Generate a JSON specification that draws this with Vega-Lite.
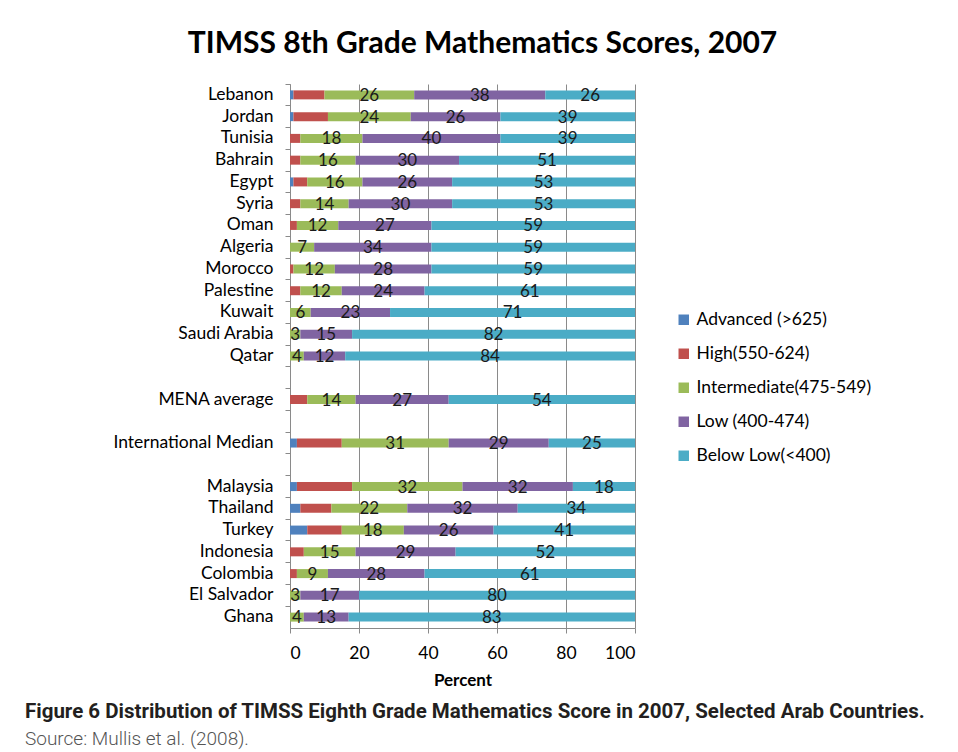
{
  "$schema": "https://vega.github.io/schema/vega-lite/v6.json",
  "padding": {"left": 25, "top": 28, "right": 5, "bottom": 5},
  "config": {"font": "Lato", "view": {"stroke": null}},
  "spacing": 13,
  "vconcat": [
    {
      "title": {"text": "TIMSS 8th Grade Mathematics Scores, 2007", "fontSize": 30, "fontWeight": "bold", "font": "Lato", "color": "#000000", "anchor": "middle", "dx": 20, "offset": 25},
      "width": 345,
      "height": 544,
      "data": {"values": [
        {"c": "Lebanon", "k": 1, "lv": "Advanced (>625)", "v": 1},
        {"c": "Lebanon", "k": 2, "lv": "High(550-624)", "v": 9},
        {"c": "Lebanon", "k": 3, "lv": "Intermediate(475-549)", "v": 26},
        {"c": "Lebanon", "k": 4, "lv": "Low (400-474)", "v": 38},
        {"c": "Lebanon", "k": 5, "lv": "Below Low(<400)", "v": 26},
        {"c": "Jordan", "k": 1, "lv": "Advanced (>625)", "v": 1},
        {"c": "Jordan", "k": 2, "lv": "High(550-624)", "v": 10},
        {"c": "Jordan", "k": 3, "lv": "Intermediate(475-549)", "v": 24},
        {"c": "Jordan", "k": 4, "lv": "Low (400-474)", "v": 26},
        {"c": "Jordan", "k": 5, "lv": "Below Low(<400)", "v": 39},
        {"c": "Tunisia", "k": 1, "lv": "Advanced (>625)", "v": 0},
        {"c": "Tunisia", "k": 2, "lv": "High(550-624)", "v": 3},
        {"c": "Tunisia", "k": 3, "lv": "Intermediate(475-549)", "v": 18},
        {"c": "Tunisia", "k": 4, "lv": "Low (400-474)", "v": 40},
        {"c": "Tunisia", "k": 5, "lv": "Below Low(<400)", "v": 39},
        {"c": "Bahrain", "k": 1, "lv": "Advanced (>625)", "v": 0},
        {"c": "Bahrain", "k": 2, "lv": "High(550-624)", "v": 3},
        {"c": "Bahrain", "k": 3, "lv": "Intermediate(475-549)", "v": 16},
        {"c": "Bahrain", "k": 4, "lv": "Low (400-474)", "v": 30},
        {"c": "Bahrain", "k": 5, "lv": "Below Low(<400)", "v": 51},
        {"c": "Egypt", "k": 1, "lv": "Advanced (>625)", "v": 1},
        {"c": "Egypt", "k": 2, "lv": "High(550-624)", "v": 4},
        {"c": "Egypt", "k": 3, "lv": "Intermediate(475-549)", "v": 16},
        {"c": "Egypt", "k": 4, "lv": "Low (400-474)", "v": 26},
        {"c": "Egypt", "k": 5, "lv": "Below Low(<400)", "v": 53},
        {"c": "Syria", "k": 1, "lv": "Advanced (>625)", "v": 0},
        {"c": "Syria", "k": 2, "lv": "High(550-624)", "v": 3},
        {"c": "Syria", "k": 3, "lv": "Intermediate(475-549)", "v": 14},
        {"c": "Syria", "k": 4, "lv": "Low (400-474)", "v": 30},
        {"c": "Syria", "k": 5, "lv": "Below Low(<400)", "v": 53},
        {"c": "Oman", "k": 1, "lv": "Advanced (>625)", "v": 0},
        {"c": "Oman", "k": 2, "lv": "High(550-624)", "v": 2},
        {"c": "Oman", "k": 3, "lv": "Intermediate(475-549)", "v": 12},
        {"c": "Oman", "k": 4, "lv": "Low (400-474)", "v": 27},
        {"c": "Oman", "k": 5, "lv": "Below Low(<400)", "v": 59},
        {"c": "Algeria", "k": 1, "lv": "Advanced (>625)", "v": 0},
        {"c": "Algeria", "k": 2, "lv": "High(550-624)", "v": 0},
        {"c": "Algeria", "k": 3, "lv": "Intermediate(475-549)", "v": 7},
        {"c": "Algeria", "k": 4, "lv": "Low (400-474)", "v": 34},
        {"c": "Algeria", "k": 5, "lv": "Below Low(<400)", "v": 59},
        {"c": "Morocco", "k": 1, "lv": "Advanced (>625)", "v": 0},
        {"c": "Morocco", "k": 2, "lv": "High(550-624)", "v": 1},
        {"c": "Morocco", "k": 3, "lv": "Intermediate(475-549)", "v": 12},
        {"c": "Morocco", "k": 4, "lv": "Low (400-474)", "v": 28},
        {"c": "Morocco", "k": 5, "lv": "Below Low(<400)", "v": 59},
        {"c": "Palestine", "k": 1, "lv": "Advanced (>625)", "v": 0},
        {"c": "Palestine", "k": 2, "lv": "High(550-624)", "v": 3},
        {"c": "Palestine", "k": 3, "lv": "Intermediate(475-549)", "v": 12},
        {"c": "Palestine", "k": 4, "lv": "Low (400-474)", "v": 24},
        {"c": "Palestine", "k": 5, "lv": "Below Low(<400)", "v": 61},
        {"c": "Kuwait", "k": 1, "lv": "Advanced (>625)", "v": 0},
        {"c": "Kuwait", "k": 2, "lv": "High(550-624)", "v": 0},
        {"c": "Kuwait", "k": 3, "lv": "Intermediate(475-549)", "v": 6},
        {"c": "Kuwait", "k": 4, "lv": "Low (400-474)", "v": 23},
        {"c": "Kuwait", "k": 5, "lv": "Below Low(<400)", "v": 71},
        {"c": "Saudi Arabia", "k": 1, "lv": "Advanced (>625)", "v": 0},
        {"c": "Saudi Arabia", "k": 2, "lv": "High(550-624)", "v": 0},
        {"c": "Saudi Arabia", "k": 3, "lv": "Intermediate(475-549)", "v": 3},
        {"c": "Saudi Arabia", "k": 4, "lv": "Low (400-474)", "v": 15},
        {"c": "Saudi Arabia", "k": 5, "lv": "Below Low(<400)", "v": 82},
        {"c": "Qatar", "k": 1, "lv": "Advanced (>625)", "v": 0},
        {"c": "Qatar", "k": 2, "lv": "High(550-624)", "v": 0},
        {"c": "Qatar", "k": 3, "lv": "Intermediate(475-549)", "v": 4},
        {"c": "Qatar", "k": 4, "lv": "Low (400-474)", "v": 12},
        {"c": "Qatar", "k": 5, "lv": "Below Low(<400)", "v": 84},
        {"c": "MENA average", "k": 1, "lv": "Advanced (>625)", "v": 0},
        {"c": "MENA average", "k": 2, "lv": "High(550-624)", "v": 5},
        {"c": "MENA average", "k": 3, "lv": "Intermediate(475-549)", "v": 14},
        {"c": "MENA average", "k": 4, "lv": "Low (400-474)", "v": 27},
        {"c": "MENA average", "k": 5, "lv": "Below Low(<400)", "v": 54},
        {"c": "International Median", "k": 1, "lv": "Advanced (>625)", "v": 2},
        {"c": "International Median", "k": 2, "lv": "High(550-624)", "v": 13},
        {"c": "International Median", "k": 3, "lv": "Intermediate(475-549)", "v": 31},
        {"c": "International Median", "k": 4, "lv": "Low (400-474)", "v": 29},
        {"c": "International Median", "k": 5, "lv": "Below Low(<400)", "v": 25},
        {"c": "Malaysia", "k": 1, "lv": "Advanced (>625)", "v": 2},
        {"c": "Malaysia", "k": 2, "lv": "High(550-624)", "v": 16},
        {"c": "Malaysia", "k": 3, "lv": "Intermediate(475-549)", "v": 32},
        {"c": "Malaysia", "k": 4, "lv": "Low (400-474)", "v": 32},
        {"c": "Malaysia", "k": 5, "lv": "Below Low(<400)", "v": 18},
        {"c": "Thailand", "k": 1, "lv": "Advanced (>625)", "v": 3},
        {"c": "Thailand", "k": 2, "lv": "High(550-624)", "v": 9},
        {"c": "Thailand", "k": 3, "lv": "Intermediate(475-549)", "v": 22},
        {"c": "Thailand", "k": 4, "lv": "Low (400-474)", "v": 32},
        {"c": "Thailand", "k": 5, "lv": "Below Low(<400)", "v": 34},
        {"c": "Turkey", "k": 1, "lv": "Advanced (>625)", "v": 5},
        {"c": "Turkey", "k": 2, "lv": "High(550-624)", "v": 10},
        {"c": "Turkey", "k": 3, "lv": "Intermediate(475-549)", "v": 18},
        {"c": "Turkey", "k": 4, "lv": "Low (400-474)", "v": 26},
        {"c": "Turkey", "k": 5, "lv": "Below Low(<400)", "v": 41},
        {"c": "Indonesia", "k": 1, "lv": "Advanced (>625)", "v": 0},
        {"c": "Indonesia", "k": 2, "lv": "High(550-624)", "v": 4},
        {"c": "Indonesia", "k": 3, "lv": "Intermediate(475-549)", "v": 15},
        {"c": "Indonesia", "k": 4, "lv": "Low (400-474)", "v": 29},
        {"c": "Indonesia", "k": 5, "lv": "Below Low(<400)", "v": 52},
        {"c": "Colombia", "k": 1, "lv": "Advanced (>625)", "v": 0},
        {"c": "Colombia", "k": 2, "lv": "High(550-624)", "v": 2},
        {"c": "Colombia", "k": 3, "lv": "Intermediate(475-549)", "v": 9},
        {"c": "Colombia", "k": 4, "lv": "Low (400-474)", "v": 28},
        {"c": "Colombia", "k": 5, "lv": "Below Low(<400)", "v": 61},
        {"c": "El Salvador", "k": 1, "lv": "Advanced (>625)", "v": 0},
        {"c": "El Salvador", "k": 2, "lv": "High(550-624)", "v": 0},
        {"c": "El Salvador", "k": 3, "lv": "Intermediate(475-549)", "v": 3},
        {"c": "El Salvador", "k": 4, "lv": "Low (400-474)", "v": 17},
        {"c": "El Salvador", "k": 5, "lv": "Below Low(<400)", "v": 80},
        {"c": "Ghana", "k": 1, "lv": "Advanced (>625)", "v": 0},
        {"c": "Ghana", "k": 2, "lv": "High(550-624)", "v": 0},
        {"c": "Ghana", "k": 3, "lv": "Intermediate(475-549)", "v": 4},
        {"c": "Ghana", "k": 4, "lv": "Low (400-474)", "v": 13},
        {"c": "Ghana", "k": 5, "lv": "Below Low(<400)", "v": 83}
      ]},
      "transform": [
        {"stack": "v", "groupby": ["c"], "sort": [{"field": "k", "order": "ascending"}], "as": ["v0", "v1"]}
      ],
      "encoding": {
        "y": {
          "field": "c", "type": "nominal", "title": null,
          "scale": {"domain": ["Lebanon", "Jordan", "Tunisia", "Bahrain", "Egypt", "Syria", "Oman", "Algeria", "Morocco", "Palestine", "Kuwait", "Saudi Arabia", "Qatar", " ", "MENA average", "  ", "International Median", "   ", "Malaysia", "Thailand", "Turkey", "Indonesia", "Colombia", "El Salvador", "Ghana"], "paddingInner": 0, "paddingOuter": 0},
          "axis": {"bandPosition": 0, "tickSize": 5, "tickColor": "#8a8a8a", "domainColor": "#8a8a8a", "labelFontSize": 17.5, "labelColor": "#000000", "labelPadding": 12, "grid": false}
        }
      },
      "layer": [
        {
          "mark": {"type": "bar", "size": 9},
          "encoding": {
            "x": {"field": "v0", "type": "quantitative", "title": "Percent", "scale": {"domain": [0, 100], "nice": false},
              "axis": {"values": [0, 20, 40, 60, 80, 100], "grid": true, "gridColor": "#8a8a8a", "gridOpacity": 1, "tickSize": 5, "tickColor": "#8a8a8a", "domainColor": "#8a8a8a", "labelFontSize": 17.5, "labelColor": "#000000", "labelPadding": 11, "titleFontSize": 17, "titleFontWeight": "bold", "titlePadding": 11, "titleColor": "#000000"}},
            "x2": {"field": "v1"},
            "color": {"field": "lv", "type": "nominal",
              "scale": {"domain": ["Advanced (>625)", "High(550-624)", "Intermediate(475-549)", "Low (400-474)", "Below Low(<400)"], "range": ["#4F81BD", "#C0504D", "#9BBB59", "#8064A2", "#4BACC6"]},
              "legend": {"title": null, "orient": "none", "legendX": 385, "legendY": 227, "symbolType": "square", "symbolSize": 110, "symbolStrokeWidth": 0, "labelFontSize": 17.5, "labelLimit": 400, "labelColor": "#000000", "rowPadding": 15, "labelOffset": 4, "padding": 0}}
          }
        },
        {
          "transform": [
            {"filter": "datum.k >= 3 && datum.v > 0"},
            {"calculate": "(datum.v0 + datum.v1) / 2", "as": "mid"}
          ],
          "mark": {"type": "text", "fontSize": 17, "color": "#1a1a1a", "baseline": "middle", "dy": 1},
          "encoding": {
            "x": {"field": "mid", "type": "quantitative"},
            "text": {"field": "v", "type": "quantitative"}
          }
        }
      ]
    },
    {
      "data": {"values": [{}]},
      "mark": {"type": "text"},
      "width": 345,
      "height": 1,
      "title": {"text": "Figure 6 Distribution of TIMSS Eighth Grade Mathematics Score in 2007, Selected Arab Countries.", "subtitle": "Source: Mullis et al. (2008).", "anchor": "start", "dx": -265, "font": "Roboto", "fontSize": 20.5, "fontWeight": "bold", "color": "#231f20", "subtitleFont": "Roboto", "subtitleFontSize": 19, "subtitleFontWeight": 300, "subtitleColor": "#555555", "subtitlePadding": 7, "offset": 0}
    }
  ]
}
